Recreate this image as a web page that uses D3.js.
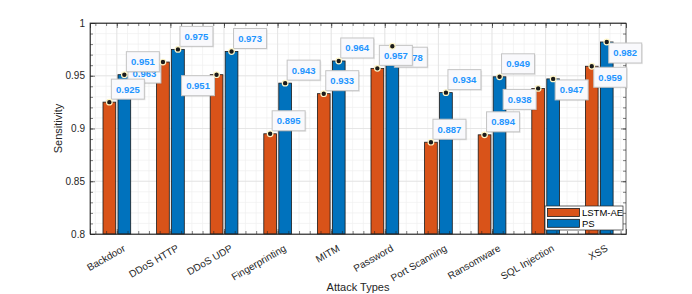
<!DOCTYPE html>
<html>
<head>
<meta charset="utf-8">
<script src="https://d3js.org/d3.v7.min.js"></script>
<style>
  body { margin: 0; background: #fff; }
  svg { font-family: "Liberation Sans", Arial, sans-serif; }
</style>
</head>
<body>
<svg width="692" height="294"></svg>
<script>
const categories = ['Backdoor', 'DDoS HTTP', 'DDoS UDP', 'Fingerprinting', 'MITM',
                    'Password', 'Port Scanning', 'Ransomware', 'SQL Injection', 'XSS'];
const seriesNames = ['LSTM-AE', 'PS'];
const lstmAE = [0.925, 0.963, 0.951, 0.895, 0.933, 0.957, 0.887, 0.894, 0.938, 0.959];
const ps     = [0.951, 0.975, 0.973, 0.943, 0.964, 0.978, 0.934, 0.949, 0.947, 0.982];
const yTicks = [0.8, 0.85, 0.9, 0.95, 1];

// datatip placement (layout only): ur = up-right, dl = down-left, dr = down-right
const tipDirLstm = ['ur', 'dl', 'dl', 'ur', 'ur', 'ur', 'ur', 'ur', 'dl', 'dr'];
const tipDirPs   = ['ur', 'ur', 'ur', 'ur', 'ur', 'dr', 'ur', 'ur', 'dr', 'dr'];

const colors = ['#D95319', '#0072BD'];
const width = 692, height = 294;
const margin = {left: 90, right: 66, top: 23, bottom: 60};
const axisColor = '#262626';

let svg = d3.select('svg');

let xBand = d3.scaleBand()
              .domain(categories)
              .range([margin.left, width - margin.right]);
let xInner = d3.scaleBand()
               .domain(seriesNames)
               .range([13, 40.7])
               .paddingInner(0.153);
let xLin = d3.scaleLinear()
             .domain([0.5, 10.5])
             .range([margin.left, width - margin.right]);
let yScale = d3.scaleLinear()
               .domain([0.8, 1])
               .range([height - margin.bottom, margin.top]);

const x0 = margin.left, x1 = width - margin.right;
const y0 = height - margin.bottom, y1 = margin.top;

// grid
let minorX = d3.range(0.6, 10.5, 0.2).map(v => +v.toFixed(1));
let minorY = d3.range(0.81, 1, 0.01).map(v => +v.toFixed(2));
let grid = svg.append('g');
grid.selectAll('.mgx').data(minorX).enter().append('line')
    .attr('x1', d => xLin(d)).attr('x2', d => xLin(d))
    .attr('y1', y0).attr('y2', y1)
    .attr('stroke', '#efefef').attr('stroke-width', 0.7);
grid.selectAll('.mgy').data(minorY).enter().append('line')
    .attr('y1', d => yScale(d)).attr('y2', d => yScale(d))
    .attr('x1', x0).attr('x2', x1)
    .attr('stroke', '#efefef').attr('stroke-width', 0.7);
grid.selectAll('.gx').data(d3.range(1, 11)).enter().append('line')
    .attr('x1', d => xLin(d)).attr('x2', d => xLin(d))
    .attr('y1', y0).attr('y2', y1)
    .attr('stroke', '#e0e0e0').attr('stroke-width', 0.7);
grid.selectAll('.gy').data(yTicks).enter().append('line')
    .attr('y1', d => yScale(d)).attr('y2', d => yScale(d))
    .attr('x1', x0).attr('x2', x1)
    .attr('stroke', '#e0e0e0').attr('stroke-width', 0.7);

// bars
let rows = categories.map((c, i) => ({cat: c, vals: [lstmAE[i], ps[i]]}));
let groups = svg.append('g').selectAll('g').data(rows).enter().append('g')
                .attr('transform', d => `translate(${xBand(d.cat)},0)`);
groups.selectAll('rect')
      .data(d => d.vals.map((v, j) => ({s: seriesNames[j], v: v, j: j})))
      .enter().append('rect')
      .attr('x', d => xInner(d.s))
      .attr('width', xInner.bandwidth())
      .attr('y', d => yScale(d.v))
      .attr('height', d => y0 - yScale(d.v))
      .attr('fill', d => colors[d.j])
      .attr('stroke', '#1a1a1a')
      .attr('stroke-width', 0.8);

// axes (box with inward ticks on all sides)
let axG = svg.append('g').attr('color', axisColor);

let yAx = axG.append('g').attr('transform', `translate(${x0},0)`)
   .call(d3.axisLeft(yScale).tickValues(yTicks).tickSize(-5)
         .tickFormat(d => d3.format('')(+d.toFixed(2))).tickPadding(5));
yAx.selectAll('text').attr('font-size', 10).attr('fill', axisColor);
axG.append('g').attr('transform', `translate(${x0},0)`)
   .call(d3.axisLeft(yScale).tickValues(minorY).tickSize(-3).tickFormat(''))
   .call(g => g.select('.domain').remove());
axG.append('g').attr('transform', `translate(${x1},0)`)
   .call(d3.axisRight(yScale).tickValues(yTicks).tickSize(-5).tickFormat(''))
   .call(g => g.select('.domain').remove());
axG.append('g').attr('transform', `translate(${x1},0)`)
   .call(d3.axisRight(yScale).tickValues(minorY).tickSize(-3).tickFormat(''))
   .call(g => g.select('.domain').remove());

let xAx = axG.append('g').attr('transform', `translate(0,${y0})`)
   .call(d3.axisBottom(xLin).tickValues(d3.range(1, 11)).tickSize(-5)
         .tickFormat(d => categories[d - 1]).tickPadding(6));
xAx.selectAll('text')
   .attr('font-size', 10).attr('fill', axisColor)
   .attr('text-anchor', 'end')
   .attr('dy', '0.35em')
   .attr('transform', 'translate(4,8) rotate(-30)');
axG.append('g').attr('transform', `translate(0,${y0})`)
   .call(d3.axisBottom(xLin).tickValues(minorX).tickSize(-3).tickFormat(''))
   .call(g => g.select('.domain').remove());
axG.append('g').attr('transform', `translate(0,${y1})`)
   .call(d3.axisTop(xLin).tickValues(d3.range(1, 11)).tickSize(-5).tickFormat(''));
axG.append('g').attr('transform', `translate(0,${y1})`)
   .call(d3.axisTop(xLin).tickValues(minorX).tickSize(-3).tickFormat(''))
   .call(g => g.select('.domain').remove());
axG.append('rect')
   .attr('x', x0).attr('y', y1).attr('width', x1 - x0).attr('height', y0 - y1)
   .attr('fill', 'none').attr('stroke', axisColor).attr('stroke-width', 0.7);
axG.selectAll('.domain').attr('stroke-width', 0.7);
axG.selectAll('.tick line').attr('stroke-width', 0.6);

// axis titles
svg.append('text')
   .attr('x', (x0 + x1) / 2).attr('y', 291)
   .attr('text-anchor', 'middle').attr('font-size', 11).attr('fill', axisColor)
   .text('Attack Types');
svg.append('text')
   .attr('transform', `translate(62,${(y0 + y1) / 2}) rotate(-90)`)
   .attr('text-anchor', 'middle').attr('font-size', 11).attr('fill', axisColor)
   .text('Sensitivity');

// datatips
let tips = [];
categories.forEach((c, i) => {
  tips.push({cat: c, s: 'LSTM-AE', v: lstmAE[i], dir: tipDirLstm[i]});
  tips.push({cat: c, s: 'PS', v: ps[i], dir: tipDirPs[i]});
});
// tips that sit underneath neighbours are drawn first
const under = t => (t.cat === 'DDoS HTTP' && t.s === 'LSTM-AE') || (t.cat === 'Password' && t.s === 'PS');
tips.sort((a, b) => under(b) - under(a));

const bw = 33, bh = 20;
let tipG = svg.append('g').selectAll('g').data(tips).enter().append('g')
  .attr('transform', d => {
    let px = xBand(d.cat) + xInner(d.s) + xInner.bandwidth() / 2;
    let py = yScale(d.v);
    let bx = d.dir === 'dl' ? px - 2 - bw : px + 2;
    let by = d.dir === 'ur' ? py - 3 - bh : py + 1;
    return `translate(${bx},${by})`;
  });
tipG.append('rect')
    .attr('x', 1.2).attr('y', 1.2).attr('width', bw).attr('height', bh)
    .attr('fill', '#000').attr('opacity', 0.08);
tipG.append('rect')
    .attr('width', bw).attr('height', bh)
    .attr('fill', '#f9f9fc').attr('stroke', '#c4c4c4').attr('stroke-width', 1);
tipG.append('text')
    .attr('x', bw / 2).attr('y', bh / 2 + 3.5)
    .attr('text-anchor', 'middle')
    .attr('font-size', 9.5).attr('font-weight', 'bold')
    .attr('fill', '#1f95ff')
    .text(d => d3.format('.3f')(d.v));

svg.append('g').selectAll('circle').data(tips).enter().append('circle')
   .attr('cx', d => xBand(d.cat) + xInner(d.s) + xInner.bandwidth() / 2)
   .attr('cy', d => yScale(d.v))
   .attr('r', 2.8)
   .attr('fill', '#1a1a1a')
   .attr('stroke', '#fff6c8').attr('stroke-width', 1.2);

// legend
let leg = svg.append('g').attr('transform', 'translate(545,206)');
leg.append('rect').attr('width', 78).attr('height', 24)
   .attr('fill', '#fff').attr('stroke', axisColor).attr('stroke-width', 0.7);
seriesNames.forEach((s, j) => {
  leg.append('rect')
     .attr('x', 2.5).attr('y', 2.5 + j * 10.8).attr('width', 32).attr('height', 8)
     .attr('fill', colors[j]).attr('stroke', '#1a1a1a').attr('stroke-width', 0.8);
  leg.append('text')
     .attr('x', 37).attr('y', 10 + j * 10.8)
     .attr('font-size', 9.5).attr('fill', '#000')
     .text(s);
});
</script>
</body>
</html>
